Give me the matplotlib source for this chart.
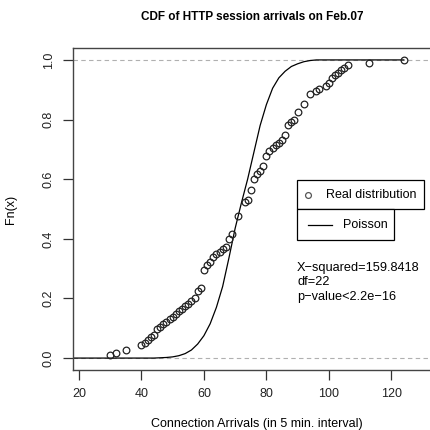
import matplotlib
matplotlib.use("Agg")
import matplotlib.pyplot as plt
from matplotlib.patches import Rectangle
from matplotlib.lines import Line2D

plt.rcParams['font.family'] = ['Liberation Sans', 'DejaVu Sans']

# empirical CDF of observed arrivals (value, Fn)
arrivals = [30, 32, 35, 40, 41, 42, 43, 44, 45, 46, 47, 48, 49, 50, 51, 52, 53, 54,
            55, 56, 57, 58, 59, 60, 61, 62, 63, 64, 65, 66, 67, 68, 69, 71, 73, 74,
            75, 76, 77, 78, 79, 80, 81, 82, 83, 84, 85, 86, 87, 88, 89, 90, 92, 94,
            96, 97, 99, 100, 101, 102, 103, 104, 105, 106, 113, 124]
fn_real = [0.009, 0.017, 0.026, 0.043, 0.052, 0.061, 0.070, 0.078, 0.096, 0.104,
           0.113, 0.122, 0.130, 0.139, 0.148, 0.157, 0.165, 0.174, 0.183, 0.191,
           0.200, 0.226, 0.235, 0.296, 0.313, 0.322, 0.339, 0.348, 0.357, 0.365,
           0.374, 0.400, 0.417, 0.478, 0.522, 0.530, 0.565, 0.600, 0.617, 0.626,
           0.643, 0.678, 0.696, 0.704, 0.713, 0.722, 0.730, 0.748, 0.783, 0.791,
           0.800, 0.826, 0.852, 0.887, 0.896, 0.904, 0.913, 0.922, 0.939, 0.948,
           0.957, 0.965, 0.974, 0.983, 0.991, 1.000]

# fitted Poisson CDF
pois_x = [0, 44, 46, 48, 50, 52, 54, 56, 58, 60, 62, 64, 66, 68, 70, 72, 74, 76,
          78, 80, 82, 84, 86, 88, 90, 92, 94, 96, 124]
pois_f = [0.0, 0.0, 0.001, 0.002, 0.004, 0.008, 0.015, 0.027, 0.047, 0.075, 0.115,
          0.17, 0.24, 0.335, 0.435, 0.52, 0.60, 0.69, 0.78, 0.85, 0.905, 0.94,
          0.962, 0.978, 0.987, 0.994, 0.998, 1.0, 1.0]

stats_lines = ["X\u2212squared=159.8418", "df=22", "p\u2212value<2.2e\u221216"]

W, H = 431, 430
fig = plt.figure(figsize=(W / 100, H / 100), dpi=100)
# axes box in pixels: left 73, top 48, bottom 370, right beyond the crop
ax = fig.add_axes([73 / W, 1 - 370 / H, (441 - 73) / W, (370 - 48) / H])

ax.axhline(0, color='#b0b0b0', ls=(0, (4, 3)), lw=0.8, zorder=1)
ax.axhline(1, color='#b0b0b0', ls=(0, (4, 3)), lw=0.8, zorder=1)
ax.plot(pois_x, pois_f, color='black', lw=0.9, zorder=2)
ax.plot(arrivals, fn_real, ls='none', marker='o', ms=4.8, mfc='none',
        mec='#222222', mew=0.9, zorder=3)

ax.set_xlim(18.1, 135.9)
ax.set_ylim(-0.04, 1.04)
ax.set_xticks([20, 40, 60, 80, 100, 120])
ax.set_yticks([0.0, 0.2, 0.4, 0.6, 0.8, 1.0])
ax.set_yticklabels(['0.0', '0.2', '0.4', '0.6', '0.8', '1.0'], rotation=90, va='center')
ax.tick_params(length=7, width=0.9, labelsize=9, pad=6, color='#333333', labelcolor='#222222')
for s in ax.spines.values():
    s.set_linewidth(1.0)
    s.set_color('#444444')

ax.set_xlabel("Connection Arrivals (in 5 min. interval)", fontsize=9, labelpad=13)
ax.set_ylabel("Fn(x)", fontsize=9, labelpad=19)
fig.text(252 / W, 1 - 17 / H, "CDF of HTTP session arrivals on Feb.07",
         ha='center', va='center', fontsize=8.5, fontweight='bold')

def fx(x):
    return x / W

def fy(y):
    return 1 - y / H

# two stacked legend boxes
fig.add_artist(Rectangle((fx(297), fy(209)), (424 - 297) / W, (209 - 180) / H,
                         transform=fig.transFigure, fill=True, fc='white',
                         ec='black', lw=0.9))
fig.add_artist(Rectangle((fx(297), fy(240)), (394 - 297) / W, (240 - 209) / H,
                         transform=fig.transFigure, fill=True, fc='white',
                         ec='black', lw=0.9))
fig.add_artist(Line2D([fx(308)], [fy(195)], transform=fig.transFigure, ls='none',
                      marker='o', ms=4.2, mfc='none', mec='#555555', mew=0.9))
fig.text(fx(326), fy(195), "Real distribution", fontsize=9, va='center', ha='left')
fig.add_artist(Line2D([fx(308), fx(332)], [fy(224.5), fy(224.5)],
                      transform=fig.transFigure, color='black', lw=0.9))
fig.text(fx(343), fy(224.5), "Poisson", fontsize=9, va='center', ha='left')

for i, t in enumerate(stats_lines):
    fig.text(fx(297), fy(267.5 + i * 14.7), t, fontsize=9.2, va='center', ha='left')

fig.savefig("out.png", dpi=100)
